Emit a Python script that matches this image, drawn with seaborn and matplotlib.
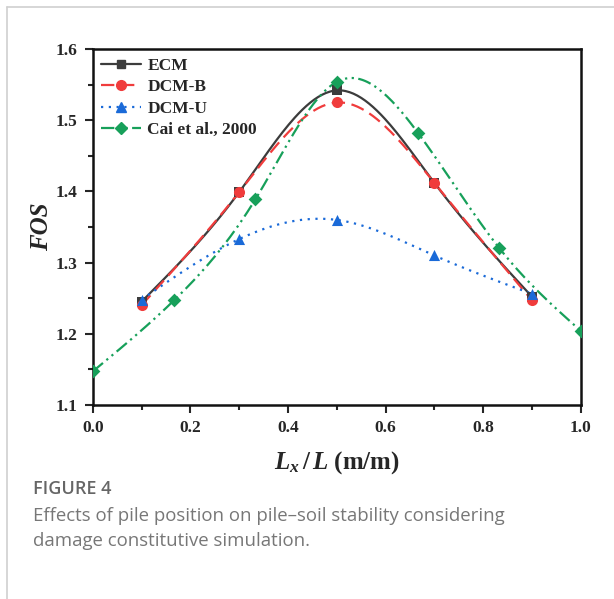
import numpy as np
import matplotlib
matplotlib.use("Agg")
import matplotlib.pyplot as plt
from matplotlib.lines import Line2D
from matplotlib.ticker import MultipleLocator, FormatStrFormatter
import seaborn as sns

# ============================
# Dados
# ============================
x_sim = [0.1, 0.3, 0.5, 0.7, 0.9]
fos_ecm = [1.245, 1.399, 1.542, 1.412, 1.252]
fos_dcm_b = [1.240, 1.399, 1.525, 1.412, 1.247]
fos_dcm_u = [1.248, 1.333, 1.360, 1.310, 1.256]

x_cai = [0.0, 1 / 6, 1 / 3, 0.5, 2 / 3, 5 / 6, 1.0]
fos_cai = [1.147, 1.247, 1.389, 1.554, 1.482, 1.320, 1.204]

series_names = ["ECM", "DCM-B", "DCM-U", "Cai et al., 2000"]


def spline(x, y, n=200):
    # spline cúbica natural, só para desenhar a curva suave
    x = np.asarray(x, float)
    y = np.asarray(y, float)
    k = len(x)
    h = np.diff(x)
    A = np.zeros((k, k))
    b = np.zeros(k)
    A[0, 0] = A[-1, -1] = 1
    for i in range(1, k - 1):
        A[i, i - 1] = h[i - 1]
        A[i, i] = 2 * (h[i - 1] + h[i])
        A[i, i + 1] = h[i]
        b[i] = 6 * ((y[i + 1] - y[i]) / h[i] - (y[i] - y[i - 1]) / h[i - 1])
    M = np.linalg.solve(A, b)
    xs = np.linspace(x[0], x[-1], n)
    idx = np.clip(np.searchsorted(x, xs) - 1, 0, k - 2)
    x0, x1 = x[idx], x[idx + 1]
    hh = x1 - x0
    ys = (M[idx] * (x1 - xs) ** 3 / (6 * hh) + M[idx + 1] * (xs - x0) ** 3 / (6 * hh)
          + (y[idx] / hh - M[idx] * hh / 6) * (x1 - xs)
          + (y[idx + 1] / hh - M[idx + 1] * hh / 6) * (xs - x0))
    return xs, ys


# ============================
# Estilo
# ============================
sns.set_style("ticks")
plt.rcParams["font.family"] = ["Liberation Serif", "DejaVu Serif"]
plt.rcParams["font.weight"] = "bold"
plt.rcParams["mathtext.fontset"] = "custom"
plt.rcParams["mathtext.it"] = "Liberation Serif:italic:bold"
plt.rcParams["mathtext.rm"] = "Liberation Serif:bold"

fig = plt.figure(figsize=(6.14, 5.99), dpi=100)
ax = fig.add_axes([0.151, 0.324, 0.795, 0.594])

estilos = [
    (x_sim, fos_ecm, "#3c3c3c", "-", "s", 7),
    (x_sim, fos_dcm_b, "#f03c3c", (0, (6, 3)), "o", 8),
    (x_sim, fos_dcm_u, "#1a6ad8", (0, (1, 2.5)), "^", 8),
    (x_cai, fos_cai, "#17a05a", (0, (6, 2, 1, 2, 1, 2)), "D", 7),
]

handles = []
for nome, (xv, yv, cor, ls, mk, ms) in zip(series_names, estilos):
    xs, ys = spline(xv, yv)
    sns.lineplot(x=xs, y=ys, ax=ax, color=cor, linestyle=ls, linewidth=1.6,
                 sort=False, estimator=None)
    sns.scatterplot(x=xv, y=yv, ax=ax, color=cor, marker=mk, s=ms ** 2,
                    edgecolor=cor, linewidth=0, zorder=5)
    handles.append(Line2D([], [], color=cor, linestyle=ls, linewidth=1.6,
                          marker=mk, markersize=ms - 1, label=nome))

ax.set_xlim(0, 1.0)
ax.set_ylim(1.1, 1.6)
ax.xaxis.set_major_locator(MultipleLocator(0.2))
ax.xaxis.set_minor_locator(MultipleLocator(0.1))
ax.yaxis.set_major_locator(MultipleLocator(0.1))
ax.yaxis.set_minor_locator(MultipleLocator(0.05))
ax.xaxis.set_major_formatter(FormatStrFormatter("%.1f"))
ax.yaxis.set_major_formatter(FormatStrFormatter("%.1f"))
ax.tick_params(which="major", direction="out", length=6, width=1.5,
               labelsize=12.5, pad=5)
ax.tick_params(which="minor", direction="out", length=3.5, width=1.5)
for sp in ax.spines.values():
    sp.set_visible(True)
    sp.set_linewidth(1.8)
    sp.set_color("#111111")

ax.set_ylabel("FOS", fontsize=18, fontweight="bold", fontstyle="italic", labelpad=2)
ax.set_xlabel(r"$L_x\,/\,L$ (m/m)", fontsize=18, fontweight="bold", labelpad=9)

ax.legend(handles=handles, loc="upper left", frameon=False, handlelength=2.3,
          prop={"family": "Liberation Serif", "weight": "bold", "size": 12.5},
          borderaxespad=0.2, labelspacing=0.3, handletextpad=0.35,
          borderpad=0.3)

# moldura cinza e legenda da figura
fig.add_artist(Line2D([0.012, 1.0], [0.988, 0.988], color="#d0d0d0", linewidth=1.2))
fig.add_artist(Line2D([0.012, 0.012], [0.0, 0.988], color="#d0d0d0", linewidth=1.2))
fig.text(0.054, 0.184, "FIGURE 4", fontsize=13, color="#666666",
         family="Open Sans", fontweight=600, va="center")
fig.text(0.054, 0.138, "Effects of pile position on pile\u2013soil stability considering",
         fontsize=13.4, color="#777777", family="Open Sans", fontweight="normal",
         va="center")
fig.text(0.054, 0.096, "damage constitutive simulation.",
         fontsize=13.4, color="#777777", family="Open Sans", fontweight="normal",
         va="center")

fig.savefig("out.png", dpi=100)
